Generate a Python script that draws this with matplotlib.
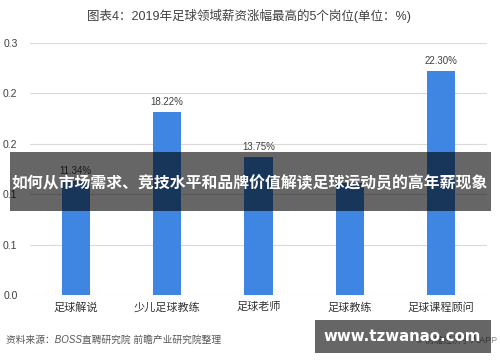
import matplotlib
matplotlib.use("Agg")
import matplotlib.pyplot as plt
from matplotlib.patches import Rectangle
from matplotlib.ticker import FuncFormatter

plt.rcParams['font.family'] = ['Liberation Sans', 'Noto Sans CJK SC', 'DejaVu Sans']

# data
jobs = ["足球解说", "少儿足球教练", "足球老师", "足球教练", "足球课程顾问"]
bar_heights = [0.136, 0.218, 0.164, 0.133, 0.267]
bar_labels = ["11.34%", "18.22%", "13.75%", "", "22.30%"]
yticks = [0.0, 0.06, 0.12, 0.18, 0.24, 0.30]

title = "图表4：2019年足球领域薪资涨幅最高的5个岗位(单位：%)"
source = "资料来源：BOSS直聘研究院 前瞻产业研究院整理"
banner = "如何从市场需求、竞技水平和品牌价值解读足球运动员的高年薪现象"
site = "www.tzwanao.com"

fig = plt.figure(figsize=(5, 3.62), dpi=100)
ax = fig.add_axes([0.06, 0.185, 0.914, 0.696])

x = range(len(jobs))
bars = ax.bar(x, bar_heights, width=0.31, color="#3E86E1", zorder=2)
for b, lab in zip(bars, bar_labels):
    ax.text(b.get_x() + b.get_width() / 2, b.get_height() + 0.006, lab,
            ha="center", va="bottom", fontsize=7, color="#404040")

ax.set_xlim(-0.5, len(jobs) - 0.5)
ax.set_ylim(0, 0.3)
ax.set_yticks(yticks)
ax.yaxis.set_major_formatter(FuncFormatter(lambda v, p: "%.1f" % (v + 1e-9)))
ax.set_xticks(list(x))
ax.set_xticklabels(jobs, fontsize=8, color="#333333")
ax.tick_params(axis="y", labelsize=7.5, colors="#404040", length=0, pad=9)
ax.tick_params(axis="x", length=0, pad=5)
ax.grid(axis="y", color="#d9d9d9", linewidth=0.8, zorder=0)
for s in ax.spines.values():
    s.set_visible(False)

fig.text(0.498, 0.955, title, ha="center", va="center", fontsize=9, color="#404040")
fig.text(0.012, 0.06, source, ha="left", va="center", fontsize=7,
         color="#555555", style="italic")
fig.text(0.994, 0.06, "© 前瞻经济学人APP", ha="right", va="center", fontsize=6.5,
         color="#888888")

# dark banner over the chart
fig.patches.append(Rectangle((0.02, 0.417), 0.962, 0.163, transform=fig.transFigure,
                             facecolor="black", alpha=0.6, zorder=10))
fig.text(0.5, 0.494, banner, ha="center", va="center", fontsize=11.4,
         color="white", fontweight="bold", zorder=11)

# site box bottom right
fig.patches.append(Rectangle((0.63, 0.025), 0.352, 0.091, transform=fig.transFigure,
                             facecolor="black", alpha=0.6, zorder=10))
fig.text(0.805, 0.07, site, ha="center", va="center", fontsize=10.8,
         color="white", fontweight="bold", zorder=11, family="DejaVu Sans")

fig.savefig("out.png", dpi=100)
